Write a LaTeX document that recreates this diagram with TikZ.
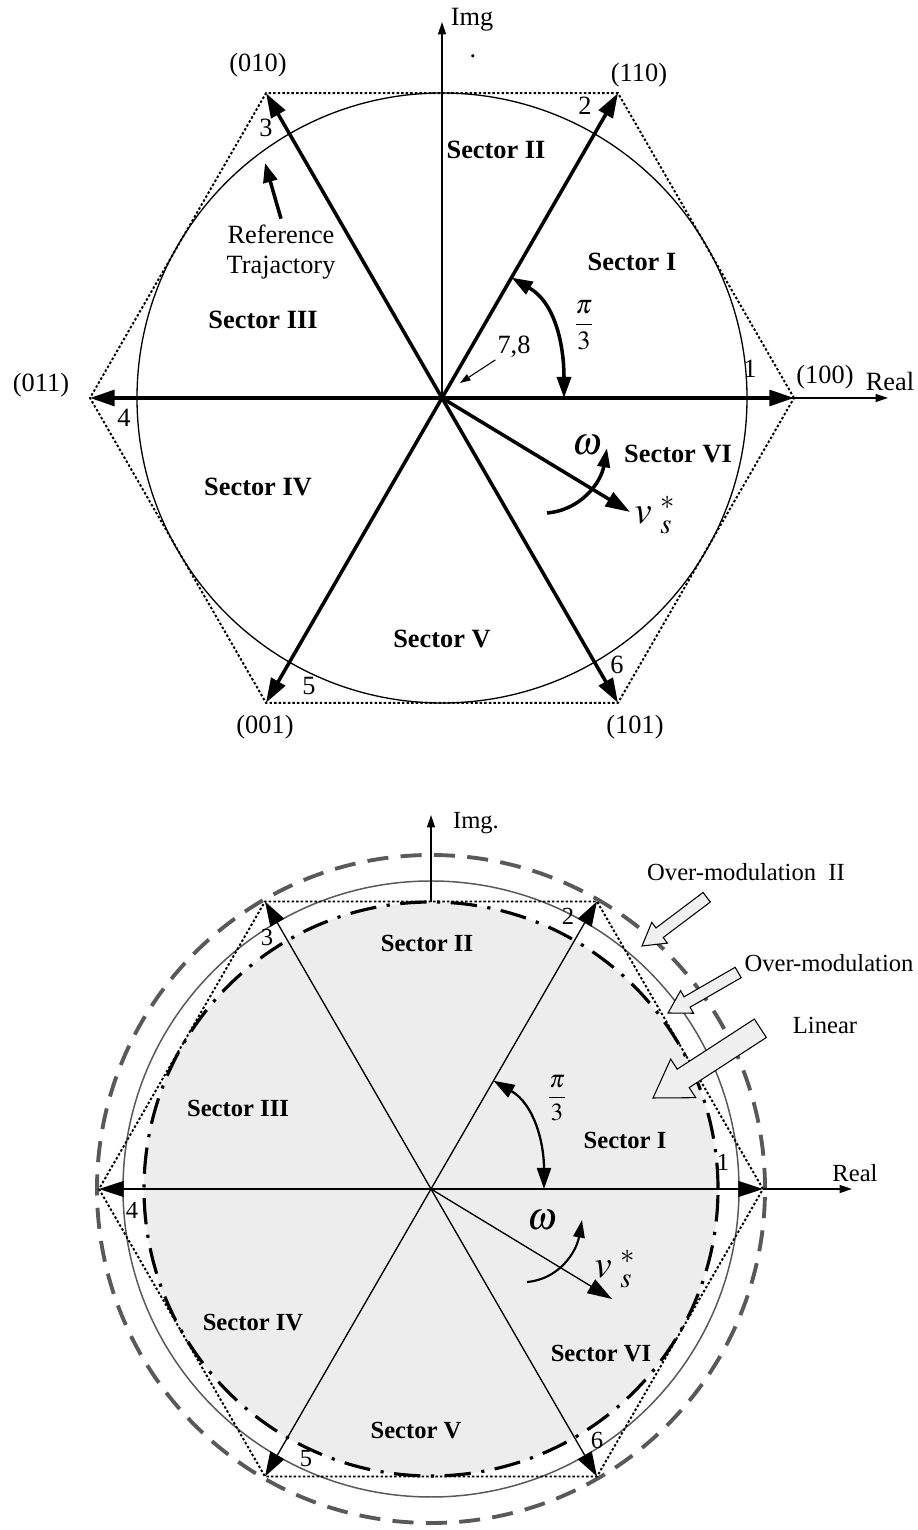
\documentclass[tikz,border=0pt]{standalone}
\usepackage{amsmath}
\usepackage{mathptmx}
\usepackage[no-math]{fontspec}
\setmainfont{Liberation Serif}
\usetikzlibrary{arrows.meta}

\begin{document}
\begin{tikzpicture}[x=0.02cm, y=0.02cm,
    punta/.style={-{Triangle[length=14pt,width=9pt]}},
    vettoreT/.style={punta, line width=2pt},
    vettoreB/.style={punta, line width=0.75pt},
    asse/.style={line width=0.7pt, -{Triangle[length=7pt,width=4.5pt]}},
    esagono/.style={line width=1.1pt, dash pattern=on 1.4pt off 1.2pt},
    testo/.style={font=\fontsize{15}{17}\selectfont},
    settore/.style={font=\fontsize{15}{17}\selectfont\bfseries},
    grande/.style={font=\fontsize{22}{26}\selectfont},
    blocco/.style={draw, fill=black!6, line width=0.6pt, line join=miter}]

    \useasboundingbox (0,0) rectangle (918,1530);

    % Diagramma superiore
    \begin{scope}[shift={(442,1132)}]
        \coordinate (OT) at (0,0);
        \coordinate (A1) at (0:352);
        \coordinate (A2) at (60:352);
        \coordinate (A3) at (120:352);
        \coordinate (A4) at (180:352);
        \coordinate (A5) at (240:352);
        \coordinate (A6) at (300:352);

        % Esagono e traiettoria
        \draw[esagono] (A1) -- (A2) -- (A3) -- (A4) -- (A5) -- (A6) -- cycle;
        \draw[line width=0.75pt] (OT) circle (305);

        % Assi
        \draw[asse] (OT) -- (0,376);
        \draw[asse] (OT) -- (446,0);
        \node[testo] (imgT) at (30,378) {Img};
        \node[testo, inner sep=0pt] (puntoT) at (31,342) {.};
        \node[testo] (realT) at (448,16) {Real};

        % Vettori attivi
        \draw[vettoreT] (OT) -- (A1);
        \draw[vettoreT] (OT) -- (A2);
        \draw[vettoreT] (OT) -- (A3);
        \draw[vettoreT] (OT) -- (A4);
        \draw[vettoreT] (OT) -- (A5);
        \draw[vettoreT] (OT) -- (A6);

        % Stati di commutazione
        \node[testo] (s100) at (383,21) {(100)};
        \node[testo] (s110) at (197,323) {(110)};
        \node[testo] (s010) at (-184,333) {(010)};
        \node[testo] (s011) at (-401,13) {(011)};
        \node[testo] (s001) at (-177,-329) {(001)};
        \node[testo] (s101) at (193,-329) {(101)};

        \node[testo] (nT1) at (308,29) {1};
        \node[testo] (nT2) at (143,292) {2};
        \node[testo] (nT3) at (-176,270) {3};
        \node[testo] (nT4) at (-318,-20) {4};
        \node[testo] (nT5) at (-133,-288) {5};
        \node[testo] (nT6) at (175,-267) {6};

        % Settori
        \node[settore] (secT2) at (54,248) {Sector II};
        \node[settore] (secT1) at (190,136) {Sector I};
        \node[settore] (secT3) at (-179,78) {Sector III};
        \node[settore] (secT4) at (-184,-89) {Sector IV};
        \node[settore] (secT5) at (0,-241) {Sector V};
        \node[settore] (secT6) at (236,-56) {Sector VI};

        % Traiettoria di riferimento
        \node[testo, align=center] (refT) at (-161,146) {Reference\\Trajactory};
        \coordinate (refpunta) at (-177,235);
        \draw[line width=2pt, -{Triangle[length=11pt,width=8pt]}] (refT.north) -- (refpunta);

        % Vettori nulli
        \node[testo, inner sep=1pt] (sette) at (72,51) {7,8};
        \coordinate (zeroT) at (18,15);
        \draw[line width=0.6pt, -{Triangle[length=6pt,width=4pt]}] (sette.south west) -- (zeroT);

        % Angolo pi/3
        \coordinate (piA) at (60:139);
        \coordinate (piB) at (122,0);
        \draw[line width=2pt, {Triangle[length=12pt,width=8pt]}-{Triangle[length=12pt,width=8pt]}] (piA) to[out=-30, in=90] (piB);
        \node[testo] (piT) at (142,73) {$\dfrac{\pi}{3}$};

        % Vettore di riferimento e rotazione
        \coordinate (vT) at (188,-114);
        \draw[vettoreT] (OT) -- (vT);
        \node[grande] (vsT) at (213,-117) {$v\;_{s}^{*}$};
        \coordinate (omA) at (105,-115);
        \coordinate (omB) at (165,-50);
        \draw[line width=2pt, -{Triangle[length=11pt,width=7pt]}] (omA) to[out=5, in=-100] (omB);
        \node[grande] (omT) at (145,-47) {$\omega$};
    \end{scope}

    % Diagramma inferiore
    \begin{scope}[shift={(431,341)},
        testo/.style={font=\fontsize{14}{16}\selectfont},
        settore/.style={font=\fontsize{14}{16}\selectfont\bfseries}]
        \coordinate (OB) at (0,0);
        \coordinate (B1) at (0:332);
        \coordinate (B2) at (60:332);
        \coordinate (B3) at (120:332);
        \coordinate (B4) at (180:332);
        \coordinate (B5) at (240:332);
        \coordinate (B6) at (300:332);

        % Zone di modulazione
        \fill[black!7] (OB) circle (287);
        \draw[black!65, line width=2.2pt, dash pattern=on 12pt off 7pt] (OB) circle (334);
        \draw[black!65, line width=0.85pt] (OB) circle (308);
        \draw[esagono] (B1) -- (B2) -- (B3) -- (B4) -- (B5) -- (B6) -- cycle;
        \draw[line width=1.8pt, dash pattern=on 15pt off 6pt on 1.8pt off 6pt] (OB) circle (287);

        % Vettori attivi
        \draw[vettoreB] (OB) -- (B1);
        \draw[vettoreB] (OB) -- (B2);
        \draw[vettoreB] (OB) -- (B3);
        \draw[vettoreB] (OB) -- (B4);
        \draw[vettoreB] (OB) -- (B5);
        \draw[vettoreB] (OB) -- (B6);

        % Assi
        \coordinate (Bsu) at (0,287);
        \draw[asse] (Bsu) -- (0,374);
        \draw[asse] (B1) -- (421,0);
        \node[testo] (imgB) at (45,366) {Img.};
        \node[testo] (realB) at (424,16) {Real};

        \node[testo] (nB1) at (292,27) {1};
        \node[testo] (nB2) at (137,273) {2};
        \node[testo] (nB3) at (-164,252) {3};
        \node[testo] (nB4) at (-299,-21) {4};
        \node[testo] (nB5) at (-125,-270) {5};
        \node[testo] (nB6) at (166,-251) {6};

        % Settori
        \node[settore] (secB2) at (-4,246) {Sector II};
        \node[settore] (secB1) at (194,49) {Sector I};
        \node[settore] (secB3) at (-193,81) {Sector III};
        \node[settore] (secB4) at (-178,-134) {Sector IV};
        \node[settore] (secB5) at (-15,-242) {Sector V};
        \node[settore] (secB6) at (170,-165) {Sector VI};

        % Angolo pi/3
        \coordinate (piC) at (60:125);
        \coordinate (piD) at (113,0);
        \draw[line width=1.3pt, {Triangle[length=12pt,width=8pt]}-{Triangle[length=12pt,width=8pt]}] (piC) to[out=-30, in=90] (piD);
        \node[testo] (piB) at (126,91) {$\dfrac{\pi}{3}$};

        % Vettore di riferimento e rotazione
        \coordinate (vB) at (181,-110);
        \draw[vettoreB] (OB) -- (vB);
        \node[grande] (vsB) at (184,-80) {$v\;_{s}^{*}$};
        \coordinate (omC) at (96,-93);
        \coordinate (omD) at (151,-31);
        \draw[line width=1.2pt, -{Triangle[length=10pt,width=6.5pt]}] (omC) to[out=5, in=-100] (omD);
        \node[grande] (omB) at (111,-31) {$\omega$};

        % Zone e frecce
        \node[testo] (ovm2) at (315,317) {Over-modulation\enspace II};
        \node[testo] (ovm1) at (398,226) {Over-modulation};
        \node[testo] (lin) at (394,164) {Linear};
        \begin{scope}[shift={(211,243)}, rotate=217]
            \draw[blocco] (0,0) -- (-22,13) -- (-22,6) -- (-81,6) -- (-81,-6) -- (-22,-6) -- (-22,-13) -- cycle;
        \end{scope}
        \begin{scope}[shift={(237,176)}, rotate=210]
            \draw[blocco] (0,0) -- (-22,13) -- (-22,6) -- (-81,6) -- (-81,-6) -- (-22,-6) -- (-22,-13) -- cycle;
        \end{scope}
        \begin{scope}[shift={(222,91)}, rotate=213]
            \draw[blocco] (0,0) -- (-36,23) -- (-36,11) -- (-128,11) -- (-128,-11) -- (-36,-11) -- (-36,-23) -- cycle;
        \end{scope}
    \end{scope}
\end{tikzpicture}
\end{document}
